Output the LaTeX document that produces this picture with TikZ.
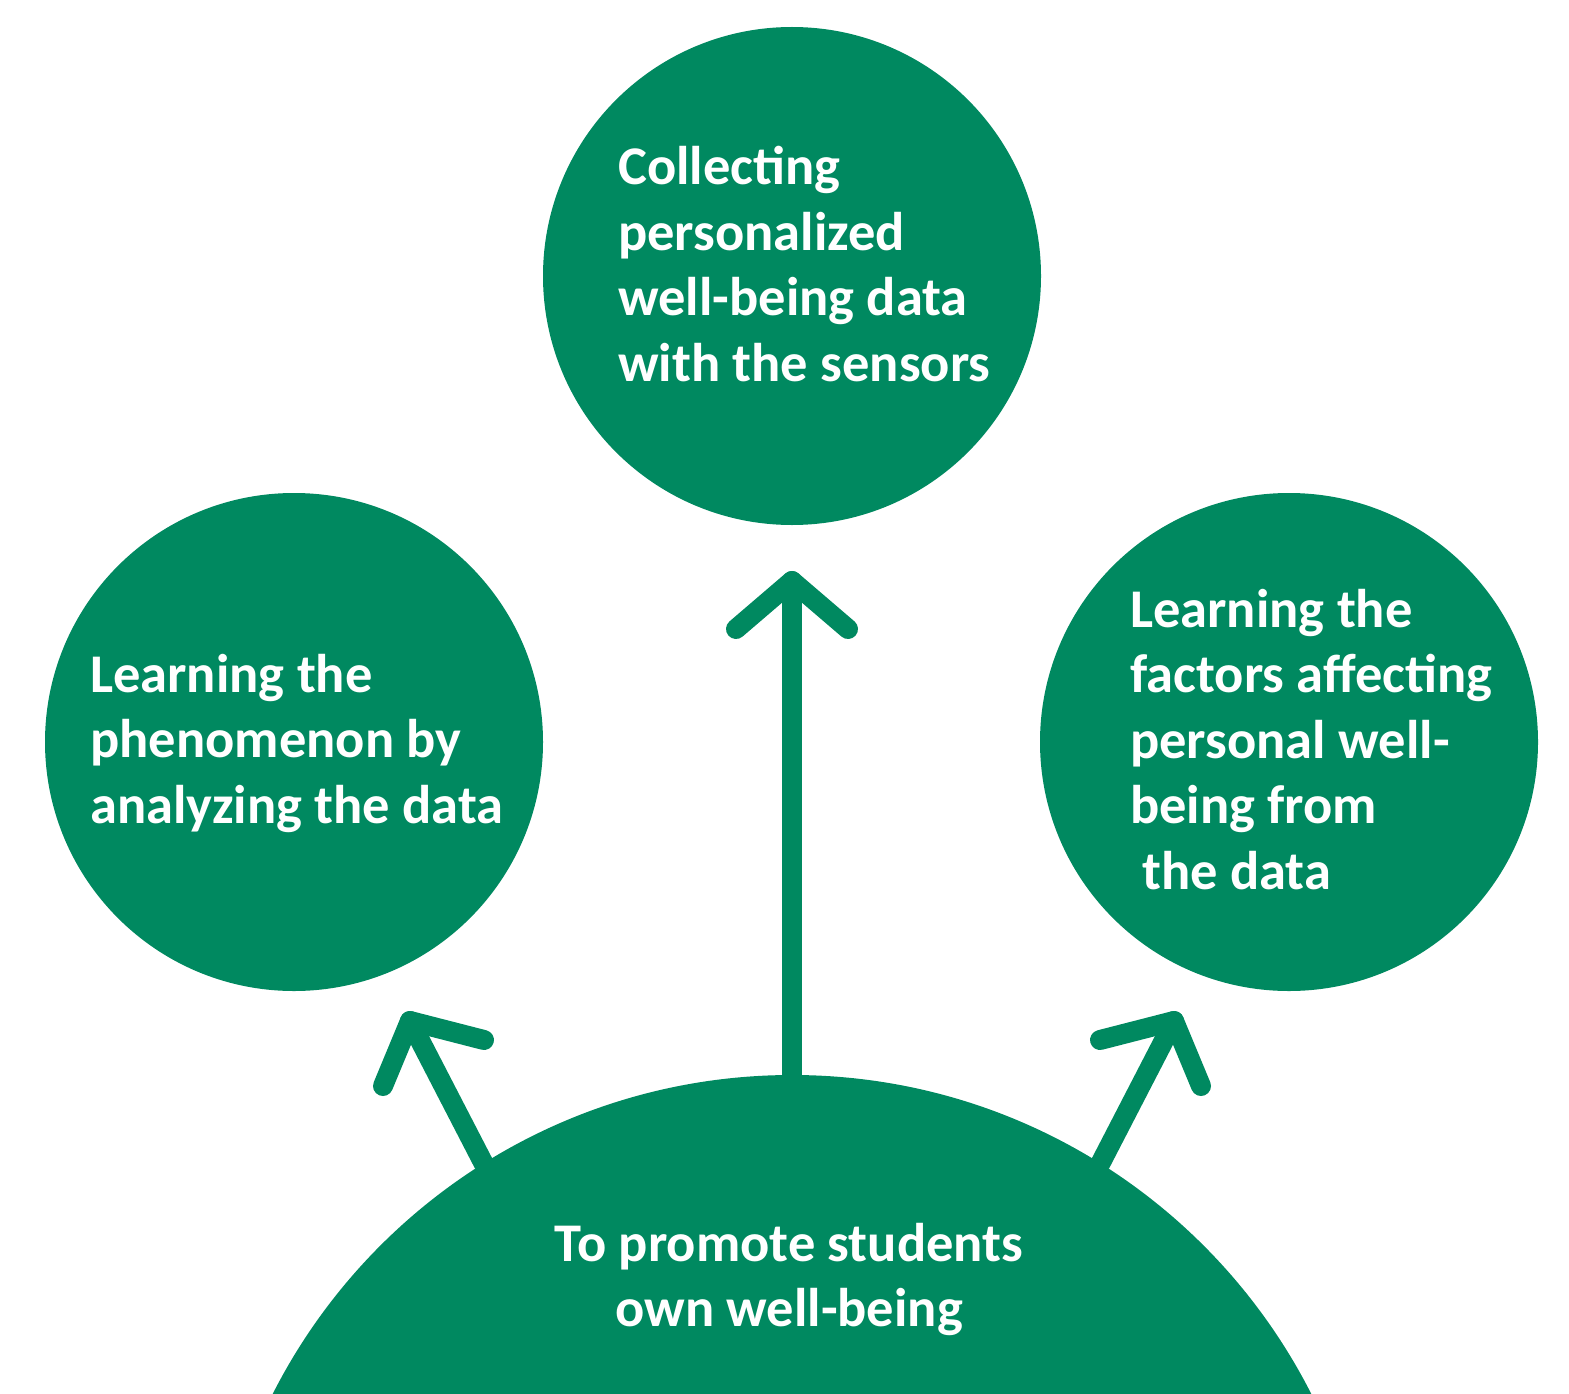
\documentclass[tikz,border=0pt]{standalone}
\usepackage{fontspec}
\setmainfont{Carlito}
\definecolor{wbgreen}{RGB}{0,137,96}
\begin{document}
\begin{tikzpicture}[x=1pt,y=-1pt,
  bubble/.style={circle,fill=wbgreen,draw=none,inner sep=0pt,minimum size=498pt},
  txt/.style={text=white,font=\bfseries\fontsize{54.5}{65.5}\selectfont,inner sep=0pt,align=left,anchor=base west},
  ctxt/.style={text=white,font=\bfseries\fontsize{54.5}{65}\selectfont,inner sep=0pt,align=center,anchor=base},
  conn/.style={draw=wbgreen,line width=20pt,line cap=round,line join=round}]
\useasboundingbox (0,0) rectangle (1569,1394);
\clip (0,0) rectangle (1569,1394);
\node[bubble] (top) at (792,276) {};
\node[bubble] (left) at (294,742) {};
\node[bubble] (right) at (1289,742) {};
\node[circle,fill=wbgreen,inner sep=0pt,minimum size=1164pt] (base) at (792,1657) {};
% text (anchored at the baseline of the last line)
\node[txt] (ttop) at (618,381) {Collecting\\personalized\\well-being data\\with the sensors};
\node[txt] (tleft) at (90,823) {Learning the\\phenomenon by\\analyzing the data};
\node[txt] (tright) at (1130,889) {Learning the\\factors affecting\\personal well-\\being from\\\hspace*{12pt}the data};
\node[ctxt] (tbase) at (789,1326) {To promote students\\own well-being};
% arrow tips
\coordinate (tc) at (792,581);
\coordinate (tc1) at (736,629);
\coordinate (tc2) at (848,629);
\coordinate (tl) at (410,1021);
\coordinate (tl1) at (383,1086);
\coordinate (tl2) at (484,1040);
\coordinate (tr) at (1174,1021);
\coordinate (tr1) at (1201,1086);
\coordinate (tr2) at (1100,1040);
\draw[conn] (base.north) -- (tc);
\draw[conn] (tc1) -- (tc) -- (tc2);
\draw[conn] (base.122) -- (tl);
\draw[conn] (tl1) -- (tl) -- (tl2);
\draw[conn] (base.58) -- (tr);
\draw[conn] (tr1) -- (tr) -- (tr2);
\end{tikzpicture}
\end{document}
